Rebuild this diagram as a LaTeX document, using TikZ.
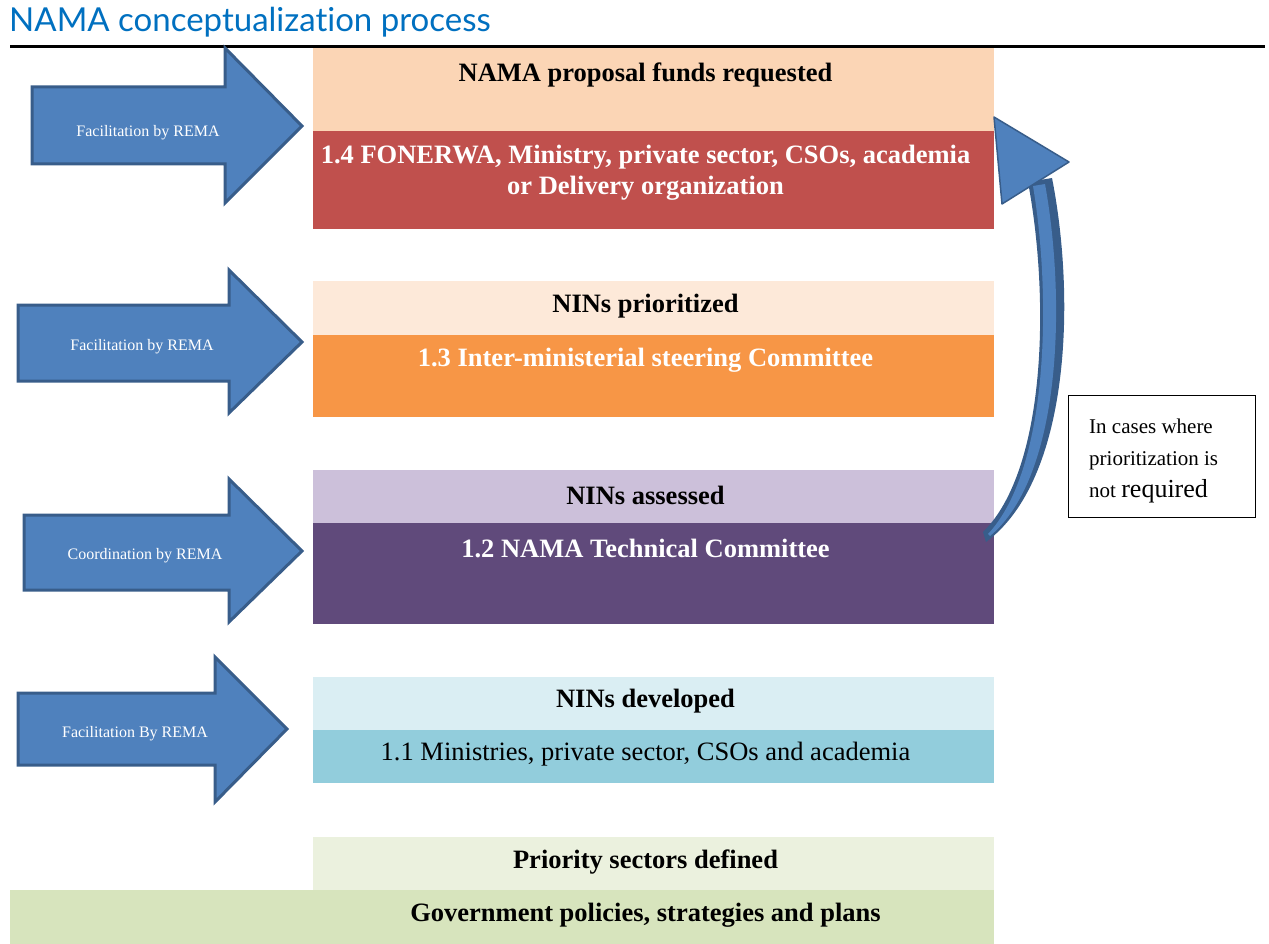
\documentclass[tikz,border=0pt]{standalone}
\usepackage{fontspec}
\setmainfont{Liberation Serif}
\newfontfamily\titlefont[Ligatures=NoCommon]{Lato}
\usepackage{tikz}
\usetikzlibrary{positioning}
\definecolor{titleblue}{HTML}{0070C0}
\definecolor{remablue}{HTML}{4F81BD}
\definecolor{remaedge}{HTML}{385D8A}
\definecolor{peach}{HTML}{FBD5B5}
\definecolor{brick}{HTML}{C0504D}
\definecolor{paleorange}{HTML}{FDE9D9}
\definecolor{orange2}{HTML}{F79646}
\definecolor{lavender}{HTML}{CCC0DA}
\definecolor{plum}{HTML}{604A7B}
\definecolor{paleblue}{HTML}{DAEEF3}
\definecolor{teal2}{HTML}{92CDDC}
\definecolor{palegreen}{HTML}{EBF1DE}
\definecolor{sage}{HTML}{D7E4BD}

\begin{document}
\begin{tikzpicture}[x=1pt, y=-1pt,
    band/.style={anchor=north west, inner sep=0pt, outer sep=0pt, minimum width=681pt},
    bandtext/.style={inner sep=0pt, xshift=-8pt, font=\fontsize{26.5}{31}\selectfont},
    head/.style={bandtext, font=\fontsize{26.5}{31}\selectfont\bfseries},
    bighead/.style={head, text=white, align=center},
    remalabel/.style={inner sep=0pt, text=white, font=\fontsize{16}{18}\selectfont},
    blockarrow/.style={fill=remablue, draw=remaedge, line width=3pt, line join=miter}]
    \useasboundingbox (0,0) rectangle (1269,944);

    % heading and rule
    \node[anchor=base west, inner sep=0pt, text=titleblue,
      font=\titlefont\fontsize{33}{36}\selectfont] (title) at (9,32) {NAMA conceptualization process};
    \coordinate (ruleL) at (10,47);
    \coordinate (ruleR) at (1265,47);
    \draw[line width=3pt] (ruleL) -- (ruleR);

    % stacked bands, bottom to top
    \node[band, fill=sage, minimum width=984pt, minimum height=54pt] (b0b) at (10,890) {};
    \node[band, fill=palegreen, minimum height=53pt] (b0a) at (313,837) {};
    \node[band, fill=teal2, minimum height=53pt] (b1b) at (313,730) {};
    \node[band, fill=paleblue, minimum height=53pt] (b1a) at (313,677) {};
    \node[band, fill=plum, minimum height=101pt] (b2b) at (313,523) {};
    \node[band, fill=lavender, minimum height=53pt] (b2a) at (313,470) {};
    \node[band, fill=orange2, minimum height=82pt] (b3b) at (313,335) {};
    \node[band, fill=paleorange, minimum height=54pt] (b3a) at (313,281) {};
    \node[band, fill=brick, minimum height=98pt] (b4b) at (313,131) {};
    \node[band, fill=peach, minimum height=83pt] (b4a) at (313,48) {};

    \coordinate (c0) at (b0a.north |- b0b.north);
    \node[head] (t0b) at ([yshift=-25pt]c0) {Government policies, strategies and plans};
    \node[head] (t0a) at ([yshift=-25pt]b0a.north) {Priority sectors defined};
    \node[bandtext] (t1b) at ([yshift=-24pt]b1b.north) {1.1 Ministries, private sector, CSOs and academia};
    \node[head] (t1a) at ([yshift=-24pt]b1a.north) {NINs developed};
    \node[bighead] (t2b) at ([yshift=-25pt]b2b.north) {1.2 NAMA Technical Committee};
    \node[head] (t2a) at ([yshift=-25pt]b2a.north) {NINs assessed};
    \node[bighead] (t3b) at ([yshift=-25pt]b3b.north) {1.3 Inter-ministerial steering Committee};
    \node[head] (t3a) at ([yshift=-25pt]b3a.north) {NINs prioritized};
    \node[bighead] (t4b) at ([yshift=-42pt]b4b.north) {1.4 FONERWA, Ministry, private sector, CSOs, academia\\or Delivery organization};
    \node[head] (t4a) at ([yshift=-27pt]b4a.north) {NAMA proposal funds requested};

    % REMA block arrows
    \draw[blockarrow] (32,87) -- (225,87) -- (225,48) -- (302,126) -- (225,203) -- (225,164) -- (32,164) -- cycle;
    \node[remalabel] (a4) at (148,133) {Facilitation by REMA};
    \draw[blockarrow] (18,305) -- (229,305) -- (229,270) -- (302,342) -- (229,413) -- (229,381) -- (18,381) -- cycle;
    \node[remalabel] (a3) at (142,347) {Facilitation by REMA};
    \draw[blockarrow] (24,515) -- (229,515) -- (229,479) -- (302,551) -- (229,622) -- (229,590) -- (24,590) -- cycle;
    \node[remalabel] (a2) at (145,556) {Coordination by REMA};
    \draw[blockarrow] (18,693) -- (215,693) -- (215,657) -- (287,729) -- (215,802) -- (215,765) -- (18,765) -- cycle;
    \node[remalabel] (a1) at (135,734) {Facilitation By REMA};

    % skip arrow from 1.2 up to funding
    \coordinate (skipfoot) at (986,542);
    \fill[remaedge] (skipfoot) .. controls (1070,480) and (1076,300) .. (1052,178)
      -- (1028,182) .. controls (1050,300) and (1046,470) .. (983,532) -- cycle;
    \fill[remablue] (990,536) .. controls (1062,476) and (1066,300) .. (1045,184)
      -- (1033,186) .. controls (1052,300) and (1048,470) .. (988,534) -- cycle;
    \filldraw[fill=remablue, draw=remaedge, line width=1.5pt, line join=round] (994,117) -- (1069,162) -- (1002,204) -- cycle;

    % note box
    \node[draw, line width=1.2pt, anchor=north west, minimum width=187pt, minimum height=122pt] (note) at (1068,395) {};
    \node[anchor=north west, inner sep=0pt, align=left, font=\fontsize{21}{32}\selectfont] (notetext) at (1089,419)
      {In cases where\\prioritization is\\not {\fontsize{26}{32}\selectfont required}};
\end{tikzpicture}
\end{document}
